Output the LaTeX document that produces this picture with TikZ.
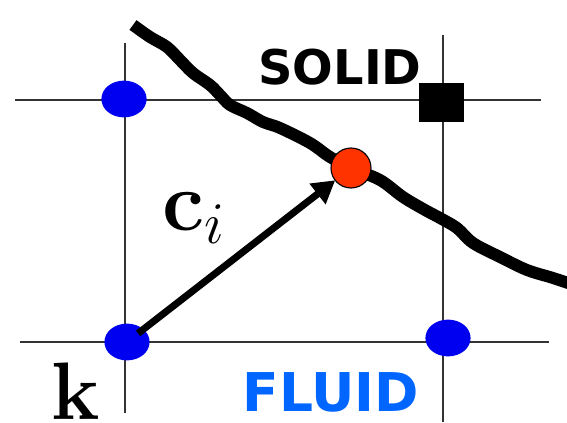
\RequirePackage{fix-cm}
\documentclass[tikz,border=0pt]{standalone}
\usepackage[no-math]{fontspec}
\usepackage{amsmath}
\newfontfamily\tagfont{DejaVu Sans}
\usetikzlibrary{arrows.meta,shapes.geometric}
\definecolor{fluidblue}{RGB}{0,102,255}
\definecolor{nodeblue}{RGB}{0,0,240}
\definecolor{wallred}{RGB}{255,51,0}

\begin{document}
\begin{tikzpicture}[x=0.025cm, y=0.025cm,
    gridline/.style={draw=black!80, line width=0.9pt},
    fluidpt/.style={ellipse, fill=nodeblue, minimum width=1.13cm, minimum height=0.92cm, inner sep=0pt},
    solidpt/.style={rectangle, fill=black, minimum width=1.12cm, minimum height=0.98cm, inner sep=0pt},
    wallpt/.style={circle, draw=black, line width=0.8pt, fill=wallred, minimum size=1.0cm, inner sep=0pt},
    wall/.style={line width=8.5pt},
    arr/.style={-{Triangle[length=5.6mm,width=6.2mm]}, line width=5pt},
    tag/.style={inner sep=0pt, anchor=base}
]
\useasboundingbox (0,0) rectangle (567,422);

% lattice
\draw[gridline] (15,322) -- (541,322);
\draw[gridline] (20,80) -- (549,80);
\draw[gridline] (125,379) -- (125,9);
\draw[gridline] (443,387) -- (443,0);

% wall boundary
\draw[wall] plot[smooth, tension=0.55] coordinates {
    (133,397) (150,385) (167,375) (180,362) (193,349) (210,337) (220,327)
    (230,317) (247,309) (263,300) (280,294) (310,279) (330,265) (351,254)
    (380,242) (403,225) (425,212) (440,204) (457,194) (473,179) (500,165)
    (527,152) (553,144) (580,135)};

% lattice nodes
\node[fluidpt] (ul) at (124,323) {};
\node[fluidpt] (k) at (127,80) {};
\node[fluidpt] (lr) at (448,84) {};
\node[solidpt] (sq) at (441.5,319.5) {};

\draw[arr, shorten <=0.35cm, shorten >=0.5cm] (k.center) -- (351,254);
\node[wallpt] (hit) at (351,254) {};

% labels
\node[tag, font={\tagfont\bfseries\fontsize{34}{38}\selectfont}] (solid) at (340,337) {SOLID};
\node[tag, text=fluidblue, font={\tagfont\bfseries\fontsize{38}{42}\selectfont}] (fluid) at (331,10) {FLUID};
\node[tag, font={\fontsize{58}{62}\selectfont}] (klbl) at (76,3) {$\mathbf{k}$};
\node[tag, anchor=base west, font={\fontsize{60}{64}\selectfont}] (ci) at (162,191) {$\mathbf{c}_i$};
\end{tikzpicture}
\end{document}
